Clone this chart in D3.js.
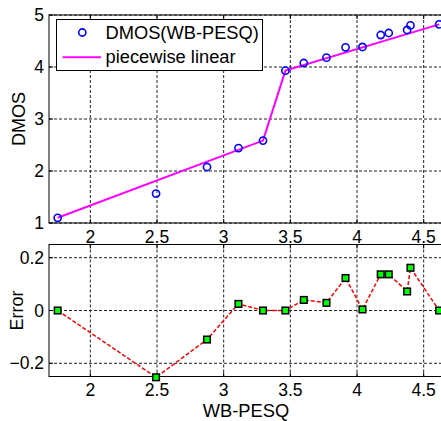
<!DOCTYPE html>
<html>
<head>
<meta charset="utf-8">
<script src="https://cdn.jsdelivr.net/npm/d3@7"></script>
<style>
  body { margin: 0; background: #fff; }
  text { font-family: "Liberation Sans", Arial, sans-serif; fill: #000; }
</style>
</head>
<body>
<svg id="chart"></svg>
<script>
// ===== DATA =====
const wbPesq = [1.755, 2.493, 2.875, 3.111, 3.295, 3.463, 3.601, 3.771, 3.914, 4.041, 4.178, 4.238, 4.376, 4.401, 4.616];
const dmos   = [1.10, 1.565, 2.077, 2.44, 2.585, 3.93, 4.077, 4.18, 4.379, 4.385, 4.615, 4.654, 4.712, 4.80, 4.82];
const fitX   = [1.755, 3.295, 3.463, 4.616];   // piecewise linear breakpoints
const fitY   = [1.10, 2.585, 3.93, 4.82];
const errors = [0, -0.253, -0.110, 0.025, 0, 0, 0.040, 0.029, 0.123, 0.004, 0.137, 0.137, 0.072, 0.162, 0];
const xTicks = [2, 2.5, 3, 3.5, 4, 4.5];
const dmosTicks = [1, 2, 3, 4, 5];
const errTicks = [-0.2, 0, 0.2];
const legendLabels = ["DMOS(WB-PESQ)", "piecewise linear"];

const W = 441, H = 421;
const svg = d3.select("svg#chart").attr("width", W).attr("height", H);

const x = d3.scaleLinear().domain([1.69, 4.66]).range([49, 445]);
const yTop = d3.scaleLinear().domain([1, 5]).range([223, 15]);
const yBot = d3.scaleLinear().domain([-0.25, 0.25]).range([376.5, 244.5]);

function panel(y, yTicks, yFmt) {
    const [y0, y1] = y.range();
    const g = svg.append("g");
    // grid
    g.selectAll("line.gx").data(xTicks).join("line")
        .attr("x1", d => x(d)).attr("x2", d => x(d))
        .attr("y1", y1).attr("y2", y0)
        .attr("stroke", "#222").attr("stroke-width", 1)
        .attr("stroke-dasharray", "3,2");
    g.selectAll("line.gy").data(yTicks).join("line")
        .attr("x1", x.range()[0]).attr("x2", x.range()[1])
        .attr("y1", d => y(d)).attr("y2", d => y(d))
        .attr("stroke", "#222").attr("stroke-width", 1)
        .attr("stroke-dasharray", "3,2");
    // frame
    g.append("rect")
        .attr("x", x.range()[0]).attr("y", y1)
        .attr("width", x.range()[1] - x.range()[0]).attr("height", y0 - y1)
        .attr("fill", "none").attr("stroke", "#000").attr("stroke-width", 1);
    // inward ticks
    g.selectAll("line.tb").data(xTicks).join("line")
        .attr("x1", d => x(d)).attr("x2", d => x(d))
        .attr("y1", y0).attr("y2", y0 - 4).attr("stroke", "#000");
    g.selectAll("line.tt").data(xTicks).join("line")
        .attr("x1", d => x(d)).attr("x2", d => x(d))
        .attr("y1", y1).attr("y2", y1 + 4).attr("stroke", "#000");
    g.selectAll("line.tl").data(yTicks).join("line")
        .attr("x1", x.range()[0]).attr("x2", x.range()[0] + 4)
        .attr("y1", d => y(d)).attr("y2", d => y(d)).attr("stroke", "#000");
    // tick labels
    g.selectAll("text.xl").data(xTicks).join("text")
        .attr("x", d => x(d)).attr("y", y0 + 19.5)
        .attr("text-anchor", "middle").attr("font-size", 17.5)
        .text(d => d);
    g.selectAll("text.yl").data(yTicks).join("text")
        .attr("x", x.range()[0] - 5).attr("y", d => y(d) + 6)
        .attr("text-anchor", "end").attr("font-size", 17.5)
        .text(yFmt);
    return g;
}

// ===== TOP PANEL =====
panel(yTop, dmosTicks, d => d);

const fitLine = d3.line().x((d, i) => x(fitX[i])).y(d => yTop(d));
svg.append("path")
    .attr("d", fitLine(fitY))
    .attr("fill", "none").attr("stroke", "#ff00ff").attr("stroke-width", 2);

svg.selectAll("circle.pt").data(dmos).join("circle")
    .attr("cx", (d, i) => x(wbPesq[i])).attr("cy", d => yTop(d))
    .attr("r", 3.6).attr("fill", "none")
    .attr("stroke", "#0000ff").attr("stroke-width", 1.6);

svg.append("text")
    .attr("transform", "translate(25,119) rotate(-90)")
    .attr("text-anchor", "middle").attr("font-size", 18)
    .text("DMOS");

// legend
const leg = svg.append("g");
leg.append("rect")
    .attr("x", 56.5).attr("y", 19.5).attr("width", 206).attr("height", 51)
    .attr("fill", "#fff").attr("stroke", "#000").attr("stroke-width", 1);
leg.append("circle")
    .attr("cx", 82.3).attr("cy", 32.5).attr("r", 3.6)
    .attr("fill", "none").attr("stroke", "#0000ff").attr("stroke-width", 1.6);
leg.append("line")
    .attr("x1", 62.7).attr("x2", 101).attr("y1", 57.3).attr("y2", 57.3)
    .attr("stroke", "#ff00ff").attr("stroke-width", 2);
leg.selectAll("text").data(legendLabels).join("text")
    .attr("x", 105.5).attr("y", (d, i) => i === 0 ? 39 : 63)
    .attr("font-size", 18.3)
    .text(d => d);

// ===== BOTTOM PANEL =====
panel(yBot, errTicks, d => d === 0 ? "0" : d3.format(".1f")(d));

const errLine = d3.line().x((d, i) => x(wbPesq[i])).y(d => yBot(d));
svg.append("path")
    .attr("d", errLine(errors))
    .attr("fill", "none").attr("stroke", "#ff0000").attr("stroke-width", 1.5)
    .attr("stroke-dasharray", "4,2");

svg.selectAll("rect.sq").data(errors).join("rect")
    .attr("x", (d, i) => x(wbPesq[i]) - 3.3).attr("y", d => yBot(d) - 3.3)
    .attr("width", 6.6).attr("height", 6.6)
    .attr("fill", "#00ff00").attr("stroke", "#000").attr("stroke-width", 1.5);

svg.append("text")
    .attr("transform", "translate(23,310.5) rotate(-90)")
    .attr("text-anchor", "middle").attr("font-size", 18)
    .text("Error");

svg.append("text")
    .attr("x", 246).attr("y", 417)
    .attr("text-anchor", "middle").attr("font-size", 18.3)
    .text("WB-PESQ");
</script>
</body>
</html>
